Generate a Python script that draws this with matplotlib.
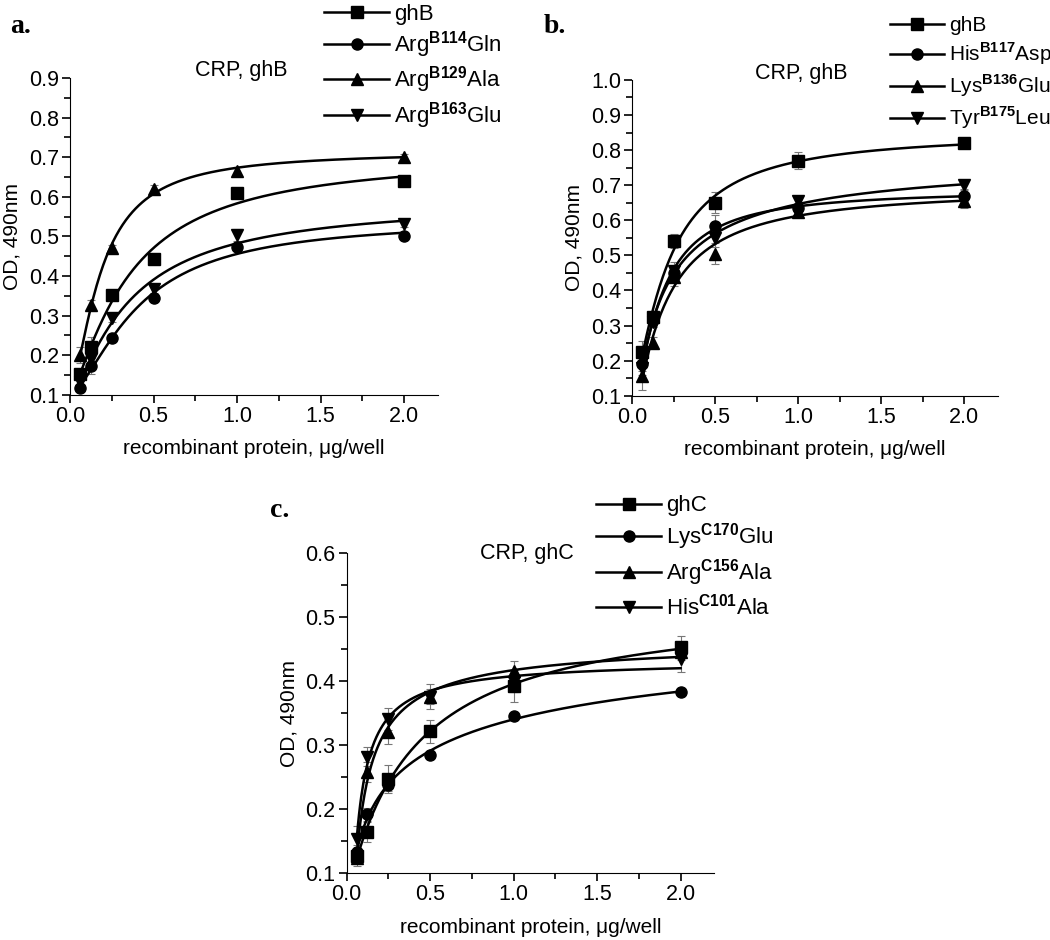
import numpy as np
import matplotlib
matplotlib.use("Agg")
import matplotlib.pyplot as plt
from matplotlib.lines import Line2D
from matplotlib.ticker import MultipleLocator, FormatStrFormatter

plt.rcParams["font.family"] = ["Liberation Sans", "DejaVu Sans"]
plt.rcParams["mathtext.fontset"] = "custom"
plt.rcParams["mathtext.rm"] = "Liberation Sans"
plt.rcParams["mathtext.bf"] = "Liberation Sans:bold"

dose = [0.0625, 0.125, 0.25, 0.5, 1.0, 2.0]
markers = ["s", "o", "^", "v"]

# panel a: CRP, ghB (Arg mutants)
labels_a = ["ghB", r"Arg$^{\mathbf{B114}}$Gln", r"Arg$^{\mathbf{B129}}$Ala", r"Arg$^{\mathbf{B163}}$Glu"]
od_a = [
    [0.153, 0.221, 0.353, 0.443, 0.610, 0.640],
    [0.118, 0.173, 0.244, 0.345, 0.474, 0.500],
    [0.201, 0.327, 0.471, 0.620, 0.666, 0.701],
    [0.133, 0.190, 0.294, 0.367, 0.504, 0.532],
]
err_a = [
    [0.010, 0.025, 0.010, 0.008, 0.008, 0.010],
    [0.008, 0.020, 0.008, 0.008, 0.008, 0.006],
    [0.020, 0.012, 0.008, 0.010, 0.010, 0.006],
    [0.010, 0.015, 0.010, 0.010, 0.015, 0.008],
]

# panel b: CRP, ghB (other mutants)
labels_b = ["ghB", r"His$^{\mathbf{B117}}$Asp", r"Lys$^{\mathbf{B136}}$Glu", r"Tyr$^{\mathbf{B175}}$Leu"]
od_b = [
    [0.226, 0.325, 0.542, 0.650, 0.770, 0.820],
    [0.190, 0.317, 0.450, 0.585, 0.635, 0.670],
    [0.155, 0.251, 0.437, 0.505, 0.625, 0.655],
    [0.180, 0.310, 0.455, 0.550, 0.655, 0.700],
]
err_b = [
    [0.030, 0.015, 0.020, 0.030, 0.025, 0.010],
    [0.020, 0.015, 0.020, 0.030, 0.015, 0.015],
    [0.040, 0.015, 0.025, 0.030, 0.015, 0.020],
    [0.020, 0.015, 0.025, 0.025, 0.015, 0.010],
]

# panel c: CRP, ghC
labels_c = ["ghC", r"Lys$^{\mathbf{C170}}$Glu", r"Arg$^{\mathbf{C156}}$Ala", r"His$^{\mathbf{C101}}$Ala"]
od_c = [
    [0.127, 0.164, 0.247, 0.322, 0.392, 0.453],
    [0.133, 0.192, 0.238, 0.285, 0.345, 0.383],
    [0.123, 0.258, 0.321, 0.376, 0.416, 0.445],
    [0.153, 0.282, 0.341, 0.376, 0.398, 0.434],
]
err_c = [
    [0.012, 0.015, 0.022, 0.018, 0.025, 0.017],
    [0.010, 0.010, 0.010, 0.006, 0.006, 0.006],
    [0.012, 0.015, 0.020, 0.012, 0.015, 0.012],
    [0.020, 0.015, 0.017, 0.020, 0.015, 0.020],
]


def hill_fit(x, y):
    # grid over n and K, linear least squares for baseline and amplitude
    x = np.asarray(x)
    y = np.asarray(y)
    best = None
    for n in np.linspace(0.5, 4.0, 71):
        for K in np.geomspace(0.02, 5.0, 120):
            f = x**n / (K**n + x**n)
            M = np.column_stack([np.ones_like(x), f])
            coef, *_ = np.linalg.lstsq(M, y, rcond=None)
            if coef[1] <= 0:
                continue
            res = np.sum((M @ coef - y) ** 2)
            if best is None or res < best[0]:
                best = (res, n, K, coef)
    _, n, K, coef = best
    xs = np.linspace(x.min(), x.max(), 300)
    return xs, coef[0] + coef[1] * xs**n / (K**n + xs**n)


def draw_panel(ax, od, err, ylim):
    for vals, e, m in zip(od, err, markers):
        ax.errorbar(dose, vals, yerr=e, fmt="none", ecolor="#777777",
                    elinewidth=0.8, capsize=3, capthick=0.8, zorder=2)
        xs, ys = hill_fit(dose, vals)
        ax.plot(xs, ys, color="black", lw=1.8, zorder=3)
        ax.plot(dose, vals, linestyle="none", marker=m, color="black",
                markersize=8, zorder=4)
    ax.set_xlim(0, 2.2)
    ax.set_ylim(*ylim)
    ax.xaxis.set_major_locator(MultipleLocator(0.5))
    ax.xaxis.set_minor_locator(MultipleLocator(0.25))
    ax.yaxis.set_major_locator(MultipleLocator(0.1))
    ax.yaxis.set_minor_locator(MultipleLocator(0.05))
    ax.xaxis.set_major_formatter(FormatStrFormatter("%.1f"))
    ax.yaxis.set_major_formatter(FormatStrFormatter("%.1f"))
    for s in ["top", "right"]:
        ax.spines[s].set_visible(False)
    ax.tick_params(which="major", length=6, width=1.2, labelsize=15.5, pad=2)
    ax.tick_params(which="minor", length=4, width=1.2)
    ax.set_xlabel("recombinant protein, μg/well", fontsize=15, labelpad=9)
    ax.set_ylabel("OD, 490nm", fontsize=15, labelpad=5)


def legend_for(fig, labels, x, y, spacing, hlen, size):
    handles = [Line2D([], [], color="black", lw=1.8, marker=m, markersize=8)
               for m in markers]
    fig.legend(handles, labels, loc="upper left", bbox_to_anchor=(x, y),
               bbox_transform=fig.transFigure, frameon=False, fontsize=size,
               handlelength=hlen, handletextpad=0.25, labelspacing=spacing,
               borderpad=0, borderaxespad=0)


fig = plt.figure(figsize=(10.5, 9.4), dpi=100)
ax_a = fig.add_axes([0.0667, 0.580, 0.350, 0.337])
ax_b = fig.add_axes([0.602, 0.579, 0.348, 0.336])
ax_c = fig.add_axes([0.330, 0.0713, 0.350, 0.340])

draw_panel(ax_a, od_a, err_a, (0.1, 0.9))
draw_panel(ax_b, od_b, err_b, (0.1, 1.0))
draw_panel(ax_c, od_c, err_c, (0.1, 0.6))

ax_a.text(0.467, 1.025, "CRP, ghB", transform=ax_a.transAxes, ha="center",
          va="center", fontsize=15.5)
ax_b.text(0.464, 1.02, "CRP, ghB", transform=ax_b.transAxes, ha="center",
          va="center", fontsize=15.5)
ax_c.text(0.49, 1.0, "CRP, ghC", transform=ax_c.transAxes, ha="center",
          va="center", fontsize=15.5)

legend_for(fig, labels_a, 0.309, 0.996, 0.2, 2.9, 16)
legend_for(fig, labels_b, 0.848, 0.983, 0.26, 2.55, 15)
legend_for(fig, labels_c, 0.568, 0.473, 0.23, 2.9, 16)

serif = ["Liberation Serif", "DejaVu Serif"]
fig.text(0.010, 0.985, "a.", fontsize=20, fontweight="bold", family=serif, va="top")
fig.text(0.518, 0.985, "b.", fontsize=20, fontweight="bold", family=serif, va="top")
fig.text(0.257, 0.470, "c.", fontsize=20, fontweight="bold", family=serif, va="top")

fig.savefig("out.png", dpi=100)
plt.close(fig)
